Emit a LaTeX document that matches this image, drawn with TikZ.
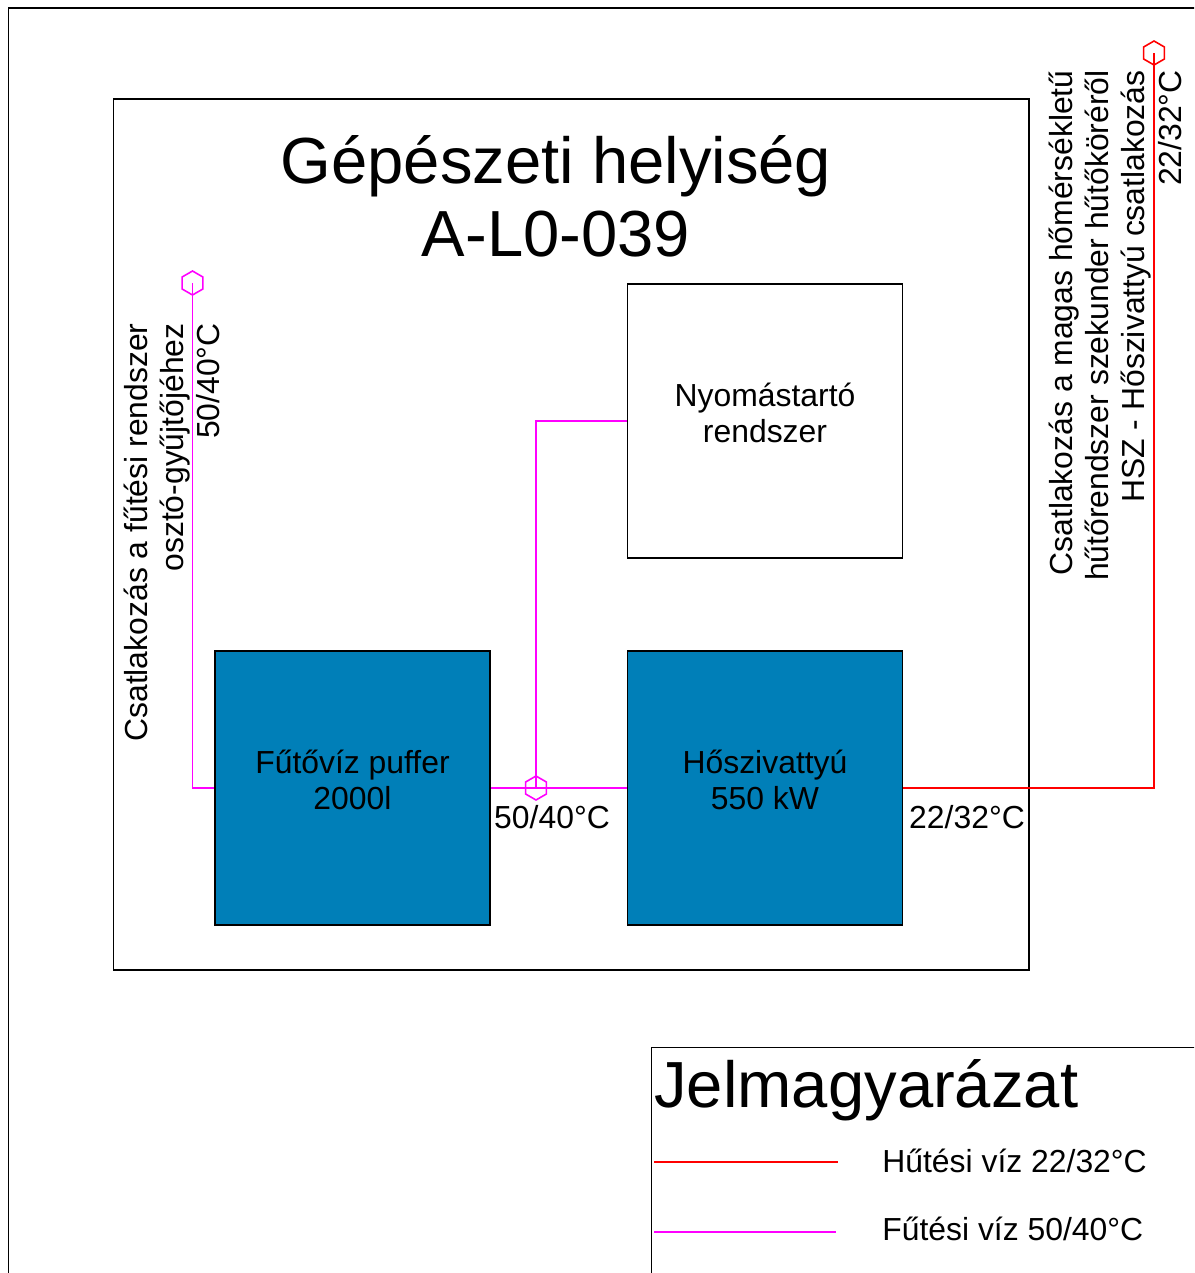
\documentclass[tikz,border=0pt]{standalone}
\usepackage{fontspec}
\setmainfont{Liberation Sans}
\usepackage{tikz}
\usetikzlibrary{shapes.geometric}
\definecolor{UnitBlue}{RGB}{0,127,184}
\definecolor{HeatMagenta}{RGB}{255,0,255}
\definecolor{CoolRed}{RGB}{255,0,0}

\begin{document}
\begin{tikzpicture}[
    x=0.02cm,
    y=-0.02cm,
    font=\fontsize{18.15}{20.7}\selectfont,
    frame/.style={
        draw,
        line width=0.9pt,
        anchor=north west,
        inner sep=0pt
    },
    unit/.style={
        draw,
        line width=0.9pt,
        align=center,
        minimum width=5.5cm,
        minimum height=5.47cm,
        text depth=0.32cm,
        fill=UnitBlue
    },
    plain/.style={
        unit,
        fill=white
    },
    port/.style={
        draw,
        regular polygon,
        regular polygon sides=6,
        shape border rotate=30,
        line width=0.9pt,
        minimum size=0.48cm,
        inner sep=0pt
    },
    heat/.style={
        line width=0.9pt,
        draw=HeatMagenta
    },
    cool/.style={
        line width=0.9pt,
        draw=CoolRed
    },
    note/.style={
        rotate=90,
        anchor=east,
        align=right,
        inner sep=0pt
    },
    label/.style={
        inner sep=0pt
    },
    bigtext/.style={
        align=center,
        inner sep=0pt,
        font=\fontsize{37.1}{41.4}\selectfont
    }
]
\clip (0,0) rectangle (1194,1273);

% =========================
% Frames
% =========================
\node[frame, minimum width=30cm, minimum height=30cm] (sheet) at (7.5,7.5) {};
\node[frame, minimum width=18.32cm, minimum height=17.42cm] (room) at (112.5,98.5) {};
\node[bigtext] (title) at (556,196) {Gépészeti helyiség\\A-L0-039};

% =========================
% Units
% =========================
\node[unit]  (puffer)   at (352.5,788) {Fűtővíz puffer\\2000l};
\node[unit]  (pump)     at (765,788) {Hőszivattyú\\550 kW};
\node[plain] (pressure) at (765,421) {Nyomástartó\\rendszer};

% =========================
% Ports and pipes
% =========================
\node[port, draw=HeatMagenta] (heatout) at (192.5,283) {};
\node[port, draw=HeatMagenta] (tee)     at (536,788) {};
\node[port, draw=CoolRed]     (coolout) at (1154,53) {};

\draw[heat] (puffer.east) -- (pump.west);
\draw[heat] (puffer.west) -| (heatout.center);
\draw[heat] (pressure.west) -| (tee.center);
\draw[cool] (pump.east) -| (coolout.center);

\node[label] (teetemp)  at (552,817) {50/40°C};
\node[label] (pumptemp) at (967,817) {22/32°C};

\node[note] (heatnote) at (172,323) {Csatlakozás a fűtési rendszer\\osztó-gyűjtőjéhez\\50/40°C};
\node[note] (coolnote) at (1115,70) {Csatlakozás a magas hőmérsékletű\\hűtőrendszer szekunder hűtőköréről\\HSZ - Hőszivattyú csatlakozás\\22/32°C};

% =========================
% Legend
% =========================
\node[frame, minimum width=14cm, minimum height=10cm] (legend) at (650.5,1046.5) {};
\node[bigtext, anchor=west] (legendtitle) at (654,1090) {Jelmagyarázat};

\coordinate (coolA) at (654,1162);
\coordinate (coolB) at (838,1162);
\coordinate (heatA) at (654,1232);
\coordinate (heatB) at (836,1232);
\draw[cool] (coolA) -- (coolB);
\draw[heat] (heatA) -- (heatB);

\node[label, anchor=west] (coolname) at (882,1161) {Hűtési víz 22/32°C};
\node[label, anchor=west] (heatname) at (882,1229) {Fűtési víz 50/40°C};

\end{tikzpicture}
\end{document}
